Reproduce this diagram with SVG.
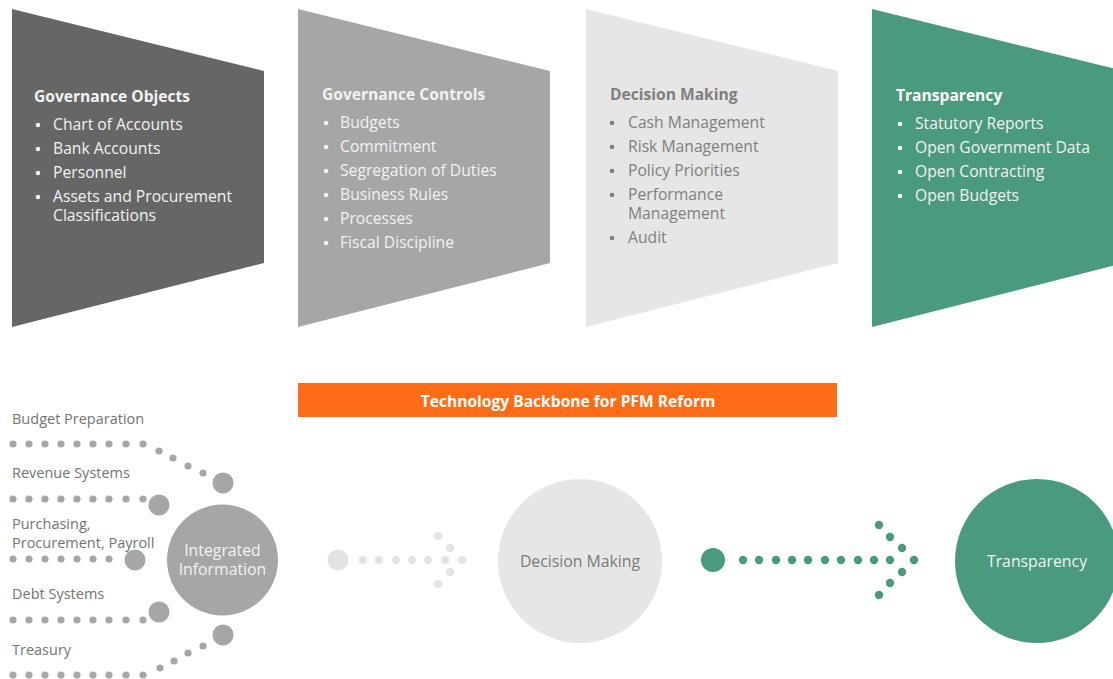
<svg xmlns="http://www.w3.org/2000/svg" width="1113" height="679" viewBox="0 0 1113 679">
<style>
text{font-family:"Open Sans","Noto Sans","Liberation Sans",sans-serif}
.t{font-size:15.6px;font-weight:700}
.i{font-size:15.7px}
.lt{fill:#f2f2f2}
.dk{fill:#7f7f7f}
.lab{font-size:14.5px;fill:#737373}
.g{fill:#a6a6a6}
.l{fill:#e3e3e3}
.gr{fill:#4a9a7e}
.ctr{text-anchor:middle;font-size:15.8px}
</style>
<rect width="1113" height="679" fill="#ffffff"/>

<g id="governance-objects">
<polygon points="12,9 264,71 264,263 12,327" fill="#666666"/>
<text class="t lt" x="34" y="102">Governance Objects</text>
<g class="lt"><circle cx="38" cy="125" r="2.3"/><circle cx="38" cy="149" r="2.3"/><circle cx="38" cy="173" r="2.3"/><circle cx="38" cy="197" r="2.3"/></g>
<text class="i lt" x="53" y="130">Chart of Accounts</text>
<text class="i lt" x="53" y="154">Bank Accounts</text>
<text class="i lt" x="53" y="178">Personnel</text>
<text class="i lt" x="53" y="202">Assets and Procurement</text>
<text class="i lt" x="53" y="221">Classifications</text>
</g>

<g id="governance-controls">
<polygon points="298,9 550,71 550,263 298,327" fill="#a6a6a6"/>
<text class="t lt" x="322" y="100">Governance Controls</text>
<g class="lt"><circle cx="326" cy="123" r="2.3"/><circle cx="326" cy="147" r="2.3"/><circle cx="326" cy="171" r="2.3"/><circle cx="326" cy="195" r="2.3"/><circle cx="326" cy="219" r="2.3"/><circle cx="326" cy="243" r="2.3"/></g>
<text class="i lt" x="340" y="128">Budgets</text>
<text class="i lt" x="340" y="152">Commitment</text>
<text class="i lt" x="340" y="176">Segregation of Duties</text>
<text class="i lt" x="340" y="200">Business Rules</text>
<text class="i lt" x="340" y="224">Processes</text>
<text class="i lt" x="340" y="248">Fiscal Discipline</text>
</g>

<g id="decision-making-panel">
<polygon points="586,9 838,71 838,263 586,327" fill="#e6e6e6"/>
<text class="t dk" x="610" y="100">Decision Making</text>
<g class="dk"><circle cx="612" cy="123" r="2.3"/><circle cx="612" cy="147" r="2.3"/><circle cx="612" cy="171" r="2.3"/><circle cx="612" cy="195" r="2.3"/><circle cx="612" cy="238" r="2.3"/></g>
<text class="i dk" x="628" y="128">Cash Management</text>
<text class="i dk" x="628" y="152">Risk Management</text>
<text class="i dk" x="628" y="176">Policy Priorities</text>
<text class="i dk" x="628" y="200">Performance</text>
<text class="i dk" x="628" y="219">Management</text>
<text class="i dk" x="628" y="243">Audit</text>
</g>

<g id="transparency-panel">
<polygon points="872,9 1124,71 1124,263 872,327" fill="#4a9a7e"/>
<text class="t" fill="#ffffff" x="896" y="101">Transparency</text>
<g fill="#f2f2f2"><circle cx="900" cy="124" r="2.3"/><circle cx="900" cy="148" r="2.3"/><circle cx="900" cy="172" r="2.3"/><circle cx="900" cy="196" r="2.3"/></g>
<text class="i lt" x="915" y="129">Statutory Reports</text>
<text class="i lt" x="915" y="153">Open Government Data</text>
<text class="i lt" x="915" y="177">Open Contracting</text>
<text class="i lt" x="915" y="201">Open Budgets</text>
</g>

<g id="backbone">
<rect x="298" y="383" width="539" height="34" fill="#ff6c17"/>
<text x="568" y="407" text-anchor="middle" font-size="15.6" font-weight="700" fill="#ffffff">Technology Backbone for PFM Reform</text>
</g>

<g id="sources">
<text class="lab" x="12" y="424">Budget Preparation</text>
<text class="lab" x="12" y="478">Revenue Systems</text>
<text class="lab" x="12" y="529">Purchasing,</text>
<text class="lab" x="12" y="548">Procurement, Payroll</text>
<text class="lab" x="12" y="599">Debt Systems</text>
<text class="lab" x="12" y="655">Treasury</text>
</g>

<g id="connectors">
<g class="g">
<circle cx="13" cy="444" r="3.6"/><circle cx="29" cy="444" r="3.6"/><circle cx="45" cy="444" r="3.6"/><circle cx="61" cy="444" r="3.6"/><circle cx="77" cy="444" r="3.6"/><circle cx="93" cy="444" r="3.6"/><circle cx="109" cy="444" r="3.6"/><circle cx="126" cy="444" r="3.6"/><circle cx="143" cy="444" r="3.6"/>
<circle cx="159" cy="451" r="3.6"/><circle cx="173" cy="458" r="3.6"/><circle cx="188" cy="466" r="3.6"/><circle cx="203" cy="473" r="3.6"/>
<circle cx="223" cy="483" r="10.5"/>
<circle cx="13" cy="499" r="3.6"/><circle cx="29" cy="499" r="3.6"/><circle cx="45" cy="499" r="3.6"/><circle cx="61" cy="499" r="3.6"/><circle cx="77" cy="499" r="3.6"/><circle cx="93" cy="499" r="3.6"/><circle cx="109" cy="499" r="3.6"/><circle cx="126" cy="499" r="3.6"/><circle cx="143" cy="499" r="3.6"/>
<circle cx="159" cy="505" r="10.5"/>
<circle cx="13" cy="559" r="3.6"/><circle cx="29" cy="559" r="3.6"/><circle cx="45" cy="559" r="3.6"/><circle cx="61" cy="559" r="3.6"/><circle cx="77" cy="559" r="3.6"/><circle cx="93" cy="559" r="3.6"/><circle cx="109" cy="559" r="3.6"/>
<circle cx="135" cy="560" r="10.5"/>
<circle cx="13" cy="620" r="3.6"/><circle cx="29" cy="620" r="3.6"/><circle cx="45" cy="620" r="3.6"/><circle cx="61" cy="620" r="3.6"/><circle cx="77" cy="620" r="3.6"/><circle cx="93" cy="620" r="3.6"/><circle cx="109" cy="620" r="3.6"/><circle cx="126" cy="620" r="3.6"/><circle cx="143" cy="620" r="3.6"/>
<circle cx="159" cy="612" r="10.5"/>
<circle cx="13" cy="675" r="3.6"/><circle cx="29" cy="675" r="3.6"/><circle cx="45" cy="675" r="3.6"/><circle cx="61" cy="675" r="3.6"/><circle cx="77" cy="675" r="3.6"/><circle cx="93" cy="675" r="3.6"/><circle cx="109" cy="675" r="3.6"/><circle cx="126" cy="675" r="3.6"/><circle cx="143" cy="675" r="3.6"/>
<circle cx="160" cy="668" r="3.6"/><circle cx="174" cy="661" r="3.6"/><circle cx="188" cy="653" r="3.6"/><circle cx="203" cy="646" r="3.6"/>
<circle cx="223" cy="635" r="10.5"/>
</g>
<g class="l">
<circle cx="338" cy="560" r="10.5"/>
<circle cx="363" cy="560" r="4"/><circle cx="379" cy="560" r="4"/><circle cx="396" cy="560" r="4"/><circle cx="412" cy="560" r="4"/><circle cx="428" cy="560" r="4"/><circle cx="445" cy="560" r="4"/><circle cx="462" cy="560" r="4"/>
<circle cx="438" cy="536" r="4"/><circle cx="450" cy="548" r="4"/><circle cx="450" cy="572" r="4"/><circle cx="438" cy="584" r="4"/>
</g>
<g class="gr">
<circle cx="713" cy="560" r="12"/>
<circle cx="743" cy="560" r="4.2"/><circle cx="759" cy="560" r="4.2"/><circle cx="776" cy="560" r="4.2"/><circle cx="792" cy="560" r="4.2"/><circle cx="808" cy="560" r="4.2"/><circle cx="825" cy="560" r="4.2"/><circle cx="841" cy="560" r="4.2"/><circle cx="858" cy="560" r="4.2"/><circle cx="874" cy="560" r="4.2"/><circle cx="890" cy="560" r="4.2"/><circle cx="914" cy="560" r="4.2"/>
<circle cx="879" cy="525" r="4.2"/><circle cx="890" cy="537" r="4.2"/><circle cx="902" cy="548" r="4.2"/><circle cx="902" cy="572" r="4.2"/><circle cx="890" cy="583" r="4.2"/><circle cx="879" cy="595" r="4.2"/>
</g>
</g>

<g id="integrated-information">
<circle cx="222.5" cy="560" r="55.5" fill="#a6a6a6"/>
<text class="ctr" fill="#f2f2f2" x="222.5" y="556">Integrated</text>
<text class="ctr" fill="#f2f2f2" x="222.5" y="575">Information</text>
</g>

<g id="decision-making">
<circle cx="580" cy="561" r="82" fill="#e6e6e6"/>
<text class="ctr" fill="#7a7a7a" x="580" y="567">Decision Making</text>
</g>

<g id="transparency">
<circle cx="1037" cy="561" r="82" fill="#4a9a7e"/>
<text class="ctr" fill="#f2f2f2" x="1037" y="567">Transparency</text>
</g>
</svg>
